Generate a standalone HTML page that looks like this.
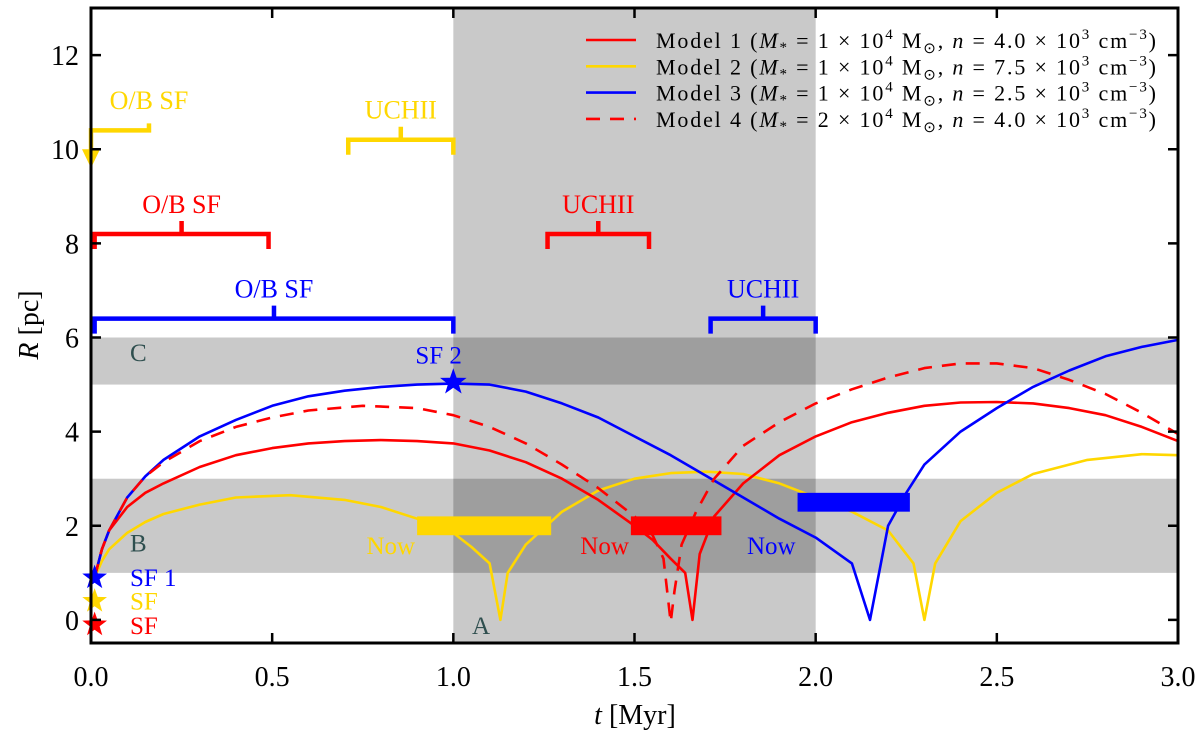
<!DOCTYPE html>
<html><head><meta charset="utf-8"><style>
body{margin:0;background:#fff}
svg{display:block;font-family:"Liberation Serif",serif}
</style></head><body>
<svg id="chart" width="1200" height="731" viewBox="0 0 1200 731" xmlns="http://www.w3.org/2000/svg">
<g id="bg"></g><g id="marks"></g><g id="axes"></g><g id="labels"></g>
</svg>
<script>
const xTicks=[0,0.5,1.0,1.5,2.0,2.5,3.0];
const yTicks=[0,2,4,6,8,10,12];
const model1T=[0.01,0.03,0.05,0.1,0.15,0.2,0.3,0.4,0.5,0.6,0.7,0.8,0.9,1.0,1.1,1.2,1.3,1.4,1.5,1.55,1.6,1.64,1.66,1.68,1.72,1.8,1.9,2.0,2.1,2.2,2.3,2.4,2.5,2.6,2.7,2.8,2.9,3.0];
const model1R=[0.9,1.5,1.9,2.4,2.7,2.9,3.25,3.5,3.65,3.75,3.8,3.82,3.8,3.75,3.6,3.35,3.0,2.55,2.0,1.7,1.3,1.0,0.0,1.4,2.2,2.9,3.5,3.9,4.2,4.4,4.55,4.62,4.63,4.6,4.5,4.35,4.1,3.8];
const model2T=[0.01,0.03,0.05,0.1,0.15,0.2,0.3,0.4,0.55,0.7,0.8,0.9,1.0,1.05,1.1,1.13,1.15,1.2,1.3,1.4,1.5,1.6,1.7,1.8,1.9,2.0,2.1,2.2,2.27,2.3,2.33,2.4,2.5,2.6,2.75,2.9,3.0];
const model2R=[0.9,1.25,1.5,1.85,2.08,2.25,2.45,2.6,2.65,2.55,2.4,2.15,1.85,1.55,1.2,0.0,1.0,1.6,2.3,2.75,3.0,3.12,3.15,3.1,2.9,2.6,2.3,1.9,1.2,0.0,1.2,2.1,2.7,3.1,3.4,3.52,3.5];
const model3T=[0.01,0.03,0.05,0.1,0.15,0.2,0.3,0.4,0.5,0.6,0.7,0.8,0.9,1.0,1.1,1.2,1.3,1.4,1.5,1.6,1.7,1.8,1.9,2.0,2.1,2.15,2.18,2.2,2.25,2.3,2.4,2.5,2.6,2.7,2.8,2.9,3.0];
const model3R=[0.9,1.5,1.9,2.6,3.05,3.4,3.9,4.25,4.55,4.75,4.87,4.95,5.0,5.02,5.0,4.85,4.6,4.3,3.9,3.5,3.05,2.6,2.15,1.75,1.2,0.0,1.2,2.0,2.7,3.3,4.0,4.5,4.95,5.3,5.6,5.8,5.95];
const model4T=[0.01,0.03,0.05,0.1,0.15,0.2,0.3,0.4,0.5,0.6,0.75,0.9,1.0,1.1,1.2,1.3,1.4,1.5,1.55,1.58,1.6,1.61,1.63,1.67,1.72,1.8,1.9,2.0,2.1,2.2,2.3,2.4,2.5,2.6,2.7,2.8,2.9,3.0];
const model4R=[0.9,1.5,1.9,2.6,3.05,3.35,3.8,4.1,4.3,4.45,4.55,4.5,4.35,4.1,3.75,3.3,2.8,2.2,1.8,1.3,-0.05,0.6,1.6,2.3,3.0,3.7,4.2,4.6,4.9,5.15,5.35,5.45,5.45,5.35,5.1,4.8,4.4,3.95];
const nowT0=[0.9,1.49,1.95], nowT1=[1.27,1.74,2.26], nowR0=[1.8,1.8,2.3], nowR1=[2.2,2.2,2.7];
const colors=['#ffd700','#ff0000','#0000ff'];
const NS='http://www.w3.org/2000/svg';
const X0=91,X1=1178,Y0=643,Y1=8,TMAX=3,RMIN=-0.49,RMAX=13;
const sx=t=>X0+(t/TMAX)*(X1-X0);
const sy=r=>Y0-(r-RMIN)/(RMAX-RMIN)*(Y0-Y1);
function mk(tag,attrs,parent,text){const e=document.createElementNS(NS,tag);for(const k in attrs)e.setAttribute(k,attrs[k]);if(text!==undefined)e.textContent=text;document.getElementById(parent).appendChild(e);return e;}
let e;
e=mk('rect',{x:sx(1),y:Y1,width:sx(2)-sx(1),height:Y0-Y1,fill:'rgba(0,0,0,0.21)'},'bg');


e=mk('rect',{x:X0,y:sy(3),width:X1-X0,height:sy(1)-sy(3),fill:'rgba(0,0,0,0.21)'},'bg');


e=mk('rect',{x:X0,y:sy(6),width:X1-X0,height:sy(5)-sy(6),fill:'rgba(0,0,0,0.21)'},'bg');


function line(T,R,col,name,dash){const d=T.map((t,i)=>(i?'L':'M')+sx(t).toFixed(1)+' '+sy(R[i]).toFixed(1)).join(' ');const p=mk('path',{d:d,fill:'none',stroke:col,'stroke-width':2.6,'stroke-linejoin':'round'},'marks');if(dash)p.setAttribute('stroke-dasharray',dash);

}
line(model2T,model2R,'#ffd700','model-2-line');
line(model1T,model1R,'#ff0000','model-1-line');
line(model3T,model3R,'#0000ff','model-3-line');
line(model4T,model4R,'#ff0000','model-4-line','14 10');
for(let i=0;i<3;i++){const r=mk('rect',{x:sx(nowT0[i]),y:sy(nowR1[i]),width:sx(nowT1[i])-sx(nowT0[i]),height:sy(nowR0[i])-sy(nowR1[i]),fill:colors[i]},'marks');


const t=mk('text',{x:sx(nowT0[i])-2,y:sy(1.4),'font-size':25,fill:colors[i],'text-anchor':'end'},'labels','Now');

}
function bracket(t0,t1,r,col,label,lr){const y=sy(r),a=sx(t0),b=sx(t1),m=(a+b)/2;
const p=mk('path',{d:`M${a} ${y+15} V${y} H${b} V${y+15} M${m} ${y} V${y-13}`,fill:'none',stroke:col,'stroke-width':4.5},'marks');


const t=mk('text',{x:m,y:sy(lr),'font-size':26,fill:col,'text-anchor':'middle'},'labels',label);

}
bracket(0.01,1.0,6.4,'#0000ff','O/B SF',6.85);
bracket(1.71,2.0,6.4,'#0000ff','UCHII',6.85);
bracket(0.01,0.49,8.2,'#ff0000','O/B SF',8.65);
bracket(1.26,1.54,8.2,'#ff0000','UCHII',8.65);
bracket(0.71,1.0,10.2,'#ffd700','UCHII',10.65);
e=mk('path',{d:`M${sx(0)} ${sy(9.8)} V${sy(10.4)} H${sx(0.16)} V${sy(10.55)}`,fill:'none',stroke:'#ffd700','stroke-width':4.5},'marks');


e=mk('path',{d:`M${sx(0)-9} ${sy(10.0)} L${sx(0)+9} ${sy(10.0)} L${sx(0)} ${sy(9.6)} Z`,fill:'#ffd700'},'marks');


e=mk('text',{x:sx(0.16),y:sy(10.85),'font-size':26,fill:'#ffd700','text-anchor':'middle'},'labels','O/B SF');


function star(t,r,col,size,name){const cx=sx(t),cy=sy(r);let d='';for(let k=0;k<10;k++){const ang=-Math.PI/2+k*Math.PI/5;const rr=k%2?size*0.4:size;d+=(k?'L':'M')+(cx+rr*Math.cos(ang)).toFixed(1)+' '+(cy+rr*Math.sin(ang)).toFixed(1);}
const p=mk('path',{d:d+'Z',fill:col},'marks');

}
star(0.01,0.9,'#0000ff',13,'sf1-star-blue');
star(0.01,0.4,'#ffd700',13,'sf-star-yellow');
star(0.01,-0.1,'#ff0000',13,'sf-star-red');
star(1.0,5.05,'#0000ff',14,'sf2-star');
const txt=[[130,sy(0.72),'SF 1','#0000ff'],[130,sy(0.22),'SF','#ffd700'],[130,sy(-0.3),'SF','#ff0000'],[sx(1.0)-38,sy(5.45),'SF 2','#0000ff'],[130,sy(5.5),'C','#2f4f4f'],[130,sy(1.45),'B','#2f4f4f'],[472,sy(-0.3),'A','#2f4f4f']];
txt.forEach(a=>{const t=mk('text',{x:a[0],y:a[1],'font-size':25,fill:a[3]},'labels',a[2]);

});
e=mk('rect',{x:X0,y:Y1,width:X1-X0,height:Y0-Y1,fill:'none',stroke:'#000','stroke-width':3},'axes');


xTicks.forEach(v=>{const x=sx(v);mk('path',{d:`M${x} ${Y0} V${Y0-10} M${x} ${Y1} V${Y1+10}`,stroke:'#000','stroke-width':2.5},'axes');
const t=mk('text',{x:x,y:686,'font-size':28,'text-anchor':'middle'},'axes',v.toFixed(1));

});
yTicks.forEach(v=>{const y=sy(v);mk('path',{d:`M${X0} ${y} H${X0+10} M${X1} ${y} H${X1-10}`,stroke:'#000','stroke-width':2.5},'axes');
const t=mk('text',{x:X0-12,y:y+10,'font-size':28,'text-anchor':'end'},'axes',String(v));

});
e=mk('text',{x:635,y:724,'font-size':28,'text-anchor':'middle'},'axes','');
e.innerHTML='<tspan font-style="italic">t</tspan> [Myr]';


e=mk('text',{x:38,y:325,'font-size':28,'text-anchor':'middle',transform:'rotate(-90 38 325)'},'axes','');
e.innerHTML='<tspan font-style="italic">R</tspan> [pc]';


const legend=[['#ff0000','1','1','4.0',''],['#ffd700','2','1','7.5',''],['#0000ff','3','1','2.5',''],['#ff0000','4','2','4.0','14 10']];
legend.forEach((L,i)=>{const y=40+i*26.3;const g=mk('g',{},'labels');
const l=mk('line',{x1:586,x2:636,y1:y,y2:y,stroke:L[0],'stroke-width':2.6},'labels');if(L[4])l.setAttribute('stroke-dasharray',L[4]);g.appendChild(l);
const t=mk('text',{x:656,y:y+8,'font-size':22,textLength:500,lengthAdjust:'spacing'},'labels','');
t.innerHTML=`Model ${L[1]} (<tspan font-style="italic">M</tspan><tspan font-size="15" dy="4">*</tspan><tspan dy="-4"> = ${L[2]} × 10</tspan><tspan font-size="15" dy="-9">4</tspan><tspan dy="9"> M</tspan><tspan font-size="15" dy="5">⊙</tspan><tspan dy="-5">, </tspan><tspan font-style="italic">n</tspan> = ${L[3]} × 10<tspan font-size="15" dy="-9">3</tspan><tspan dy="9"> cm</tspan><tspan font-size="15" dy="-9">−3</tspan><tspan dy="9">)</tspan>`;
g.appendChild(t);});
</script>
</body></html>
